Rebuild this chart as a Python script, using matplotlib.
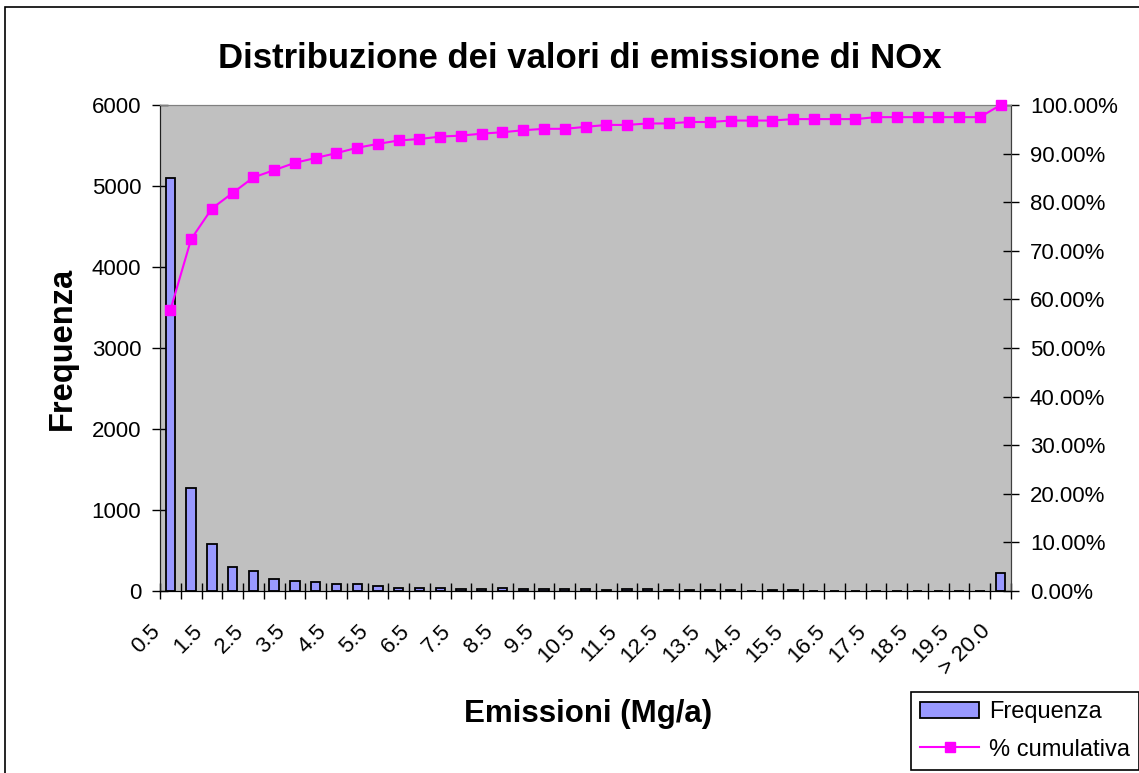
import matplotlib
matplotlib.use("Agg")
import matplotlib.pyplot as plt
from matplotlib.patches import Rectangle
from matplotlib.ticker import FixedLocator, FuncFormatter
from matplotlib.transforms import ScaledTranslation

plt.rcParams["font.family"] = ["Liberation Sans", "DejaVu Sans"]

# histogram classes (Mg/a) and counts
CLASSES = [f"{0.5 * (i + 1):.1f}" for i in range(40)] + ["> 20.0"]
FREQ = [5100, 1276, 577, 296, 251, 148, 128, 107, 82, 82,
        58, 41, 41, 41, 20, 25, 38, 20, 25, 20,
        22, 18, 20, 20, 16, 18, 16, 18, 0, 15,
        18, 0, 0, 0, 0, 0, 0, 0, 0, 0,
        218]
CUM_PCT = [57.8, 72.4, 78.7, 81.9, 85.1, 86.6, 88.1, 89.1, 90.1, 91.2,
           92.0, 92.7, 93.0, 93.5, 93.7, 94.1, 94.4, 94.8, 95.1, 95.1,
           95.5, 95.9, 95.9, 96.2, 96.2, 96.5, 96.5, 96.8, 96.8, 96.8,
           97.1, 97.1, 97.1, 97.1, 97.5, 97.5, 97.5, 97.5, 97.5, 97.5,
           100.0]

BAR_C = "#9999FF"
LINE_C = "#FF00FF"
W, H = 1139, 773

fig = plt.figure(figsize=(W / 100, H / 100), dpi=100)
ax = fig.add_axes([160 / W, 1 - 591 / H, 851 / W, 486 / H])
ax.set_facecolor("#C0C0C0")

x = list(range(len(FREQ)))
ax.bar(x, FREQ, width=0.45, color=BAR_C, edgecolor="black", linewidth=1.3,
       label="Frequenza", zorder=2)
ax.set_xlim(-0.5, len(FREQ) - 0.5)
ax.set_ylim(0, 6000)
ax.set_yticks(range(0, 6001, 1000))

# category boundaries carry the tick marks, every second class gets a label
ax.xaxis.set_minor_locator(FixedLocator([i - 0.5 for i in range(len(FREQ) + 1)]))
ax.set_xticks(x[::2])
ax.set_xticklabels(CLASSES[::2], rotation=45, ha="right", va="center",
                   rotation_mode="anchor", fontsize=16)
ax.tick_params(axis="x", which="major", length=0, pad=27)
ax.tick_params(axis="x", which="minor", direction="inout", length=11, width=1)
ax.tick_params(axis="y", direction="inout", length=11, width=1, labelsize=16, pad=8)
shift = ScaledTranslation(-0.13, 0, fig.dpi_scale_trans)
for lab in ax.get_xticklabels():
    lab.set_transform(lab.get_transform() + shift)

ax2 = ax.twinx()
ax2.plot(x, [v / 100 for v in CUM_PCT], color=LINE_C, marker="s", markersize=7,
         linewidth=1.5, label="% cumulativa", clip_on=False, zorder=3)
ax2.set_ylim(0, 1)
ax2.set_yticks([i / 10 for i in range(11)])
ax2.yaxis.set_major_formatter(FuncFormatter(lambda v, _: f"{v * 100:.2f}%"))
ax2.tick_params(axis="y", direction="inout", length=11, width=1, labelsize=16, pad=8)

for a in (ax, ax2):
    a.spines["top"].set_color("#808080")
    a.spines["left"].set_color("#202020")
    a.spines["right"].set_color("#404040")
    a.spines["bottom"].set_color("black")

ax.set_xlabel("Emissioni (Mg/a)", fontsize=22.5, fontweight="bold", va="center")
ax.xaxis.set_label_coords((588 - 160) / 851, (591 - 714) / 486)
ax.set_ylabel("Frequenza", fontsize=23.5, fontweight="bold", va="center")
ax.yaxis.set_label_coords((62 - 160) / 851, 0.5)

fig.text(580 / W, 1 - 58 / H, "Distribuzione dei valori di emissione di NOx",
         ha="center", va="center", fontsize=25, fontweight="bold")

# chart frame
fig.patches.append(Rectangle((5 / W, -0.05), 1.05, 1 - 7 / H + 0.05,
                             transform=fig.transFigure, fill=False,
                             edgecolor="black", linewidth=1.2))

h1, l1 = ax.get_legend_handles_labels()
h2, l2 = ax2.get_legend_handles_labels()
leg = fig.legend(h1 + h2, l1 + l2, loc="lower left",
                 bbox_to_anchor=(911 / W, 3 / H), fontsize=17,
                 frameon=True, fancybox=False, framealpha=1,
                 edgecolor="black", borderpad=0.4, handlelength=2.5,
                 handletextpad=0.4, labelspacing=0.65, borderaxespad=0)
leg.get_frame().set_linewidth(1.2)

fig.savefig("out.png", dpi=100)
